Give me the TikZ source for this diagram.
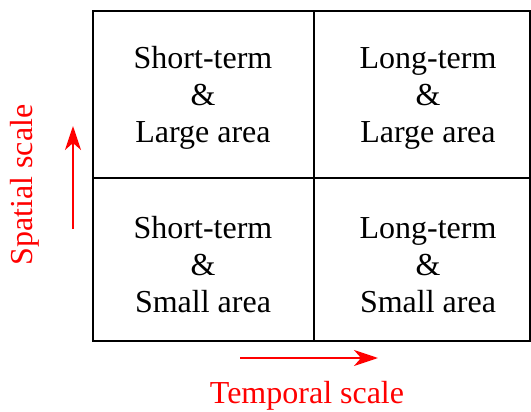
\documentclass[tikz,border=0pt]{standalone}
\usepackage{fontspec}
\setmainfont{Liberation Serif}
\usetikzlibrary{arrows.meta}
\begin{document}
\begin{tikzpicture}[x=1pt,y=-1pt,
  celltext/.style={align=center,font=\fontsize{32}{37}\selectfont},
  redarrow/.style={draw=red,line width=2pt,-{Stealth[length=24pt,width=16pt,inset=7pt]}},
  redlabel/.style={text=red,font=\fontsize{32}{37}\selectfont,inner sep=0pt}]
\useasboundingbox (0,0) rectangle (531,412);
\draw[line width=2pt] (93,11) rectangle (530,341);
\draw[line width=2pt] (313.5,11) -- (313.5,341);
\draw[line width=2pt] (93,178) -- (530,178);
\node[celltext] (tl) at (203,98) {Short-term\\\&\\Large area};
\node[celltext] (tr) at (428,98) {Long-term\\\&\\Large area};
\node[celltext] (bl) at (203,265) {Short-term\\\&\\Small area};
\node[celltext] (br) at (428,265) {Long-term\\\&\\Small area};
\coordinate (vs) at (73,229);
\coordinate (ve) at (73,126);
\coordinate (hs) at (240,358);
\coordinate (he) at (378,358);
\draw[redarrow] (vs) -- (ve);
\draw[redarrow] (hs) -- (he);
\node[redlabel,rotate=90] (sp) at (25,185) {Spatial scale};
\node[redlabel] (tp) at (307,396) {Temporal scale};
\end{tikzpicture}
\end{document}
